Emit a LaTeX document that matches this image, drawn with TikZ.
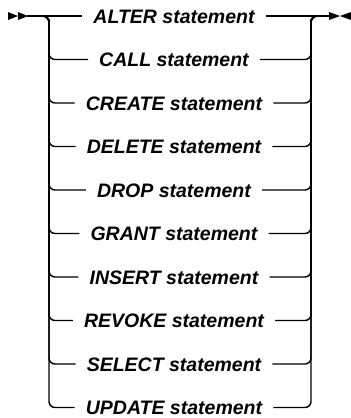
\documentclass[tikz,border=0pt]{standalone}
\usepackage{fontspec}
\setmainfont{Liberation Sans}
\begin{document}
\begin{tikzpicture}[x=1pt,y=-1pt,
  rail/.style={line width=1.4pt,line cap=butt},
  railtxt/.style={font=\fontsize{19.5}{22}\selectfont\bfseries\itshape,
    text height=14pt,text depth=0pt,inner xsep=11pt,inner ysep=0pt,anchor=center},
  tip/.style={fill=black,draw=none}]
\useasboundingbox (0,0) rectangle (351,418);
% start and end markers
\fill[tip] (8,12) -- (18,16) -- (8,20) -- cycle;
\fill[tip] (18,12) -- (28,16) -- (18,20) -- cycle;
\fill[tip] (329,12) -- (340,16) -- (329,20) -- cycle;
\fill[tip] (351,12) -- (340,16) -- (351,20) -- cycle;
\coordinate (s) at (27,16);
\coordinate (e) at (330,16);
\coordinate (L) at (49,16);
\coordinate (R) at (311,16);
% rows
\foreach \i/\t in {0/ALTER,1/CALL,2/CREATE,3/DELETE,4/DROP,5/GRANT,6/INSERT,7/REVOKE,8/SELECT,9/UPDATE}{
  \node[railtxt] (r\i) at (174,16+43.5*\i) {\t\ statement};
}
\draw[rail] (s) -- (r0.west);
\draw[rail] (r0.east) -- (e);
\foreach \i in {1,...,9}{
  \draw[rail,rounded corners=6pt] (s) -- (L) |- (r\i.west);
  \draw[rail,rounded corners=6pt] (r\i.east) -| (R) -- (e);
}
\end{tikzpicture}
\end{document}
